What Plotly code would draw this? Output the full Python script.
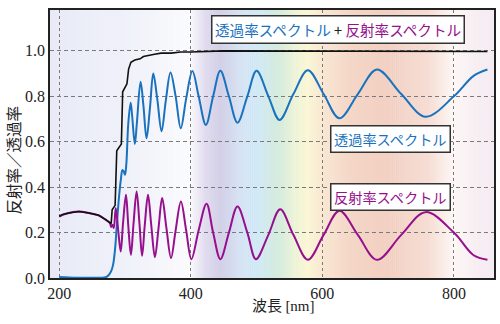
import plotly.graph_objects as go
import numpy as np

# ---------------- data ----------------
wl_T = [200, 215, 230, 245, 260, 268, 272, 275, 279, 282, 285, 288, 291, 294, 296, 298, 300,
        302, 305, 308.6, 311, 315, 318, 323.7, 328, 332.8, 338, 343, 349, 355.6, 362, 369.2,
        377, 384.8, 393, 402.5, 412, 423, 434, 445, 458, 471, 486, 500, 518, 535, 556, 578,
        602, 626, 654, 683, 720, 757, 800, 830, 851]
T = [0.004, 0.002, 0.001, 0.001, 0.001, 0.002, 0.005, 0.012, 0.03, 0.06, 0.13, 0.25, 0.36,
     0.44, 0.475, 0.47, 0.455, 0.5, 0.68, 0.772, 0.71, 0.59, 0.68, 0.864, 0.76, 0.615, 0.75,
     0.90, 0.79, 0.646, 0.78, 0.905, 0.80, 0.659, 0.79, 0.911, 0.80, 0.674, 0.80, 0.912, 0.80,
     0.684, 0.80, 0.912, 0.80, 0.696, 0.81, 0.915, 0.81, 0.703, 0.81, 0.918, 0.81, 0.71, 0.80,
     0.89, 0.918]

wl_R = [200, 210, 230, 245, 260, 270, 277, 279, 281, 283, 286, 290, 293.5, 297, 301.5, 305,
        309, 313, 317.7, 322, 326, 330, 335, 340, 345.5, 351, 356.5, 363, 370, 377, 385, 393,
        401, 412, 424, 434, 445, 458, 471, 486, 499, 518, 536, 556, 578, 602, 626, 654, 683,
        720, 757, 800, 830, 851]
R = [0.27, 0.283, 0.293, 0.286, 0.276, 0.258, 0.242, 0.225, 0.235, 0.22, 0.308, 0.2, 0.117,
     0.24, 0.366, 0.23, 0.102, 0.24, 0.381, 0.24, 0.098, 0.23, 0.366, 0.23, 0.092, 0.22, 0.352,
     0.22, 0.088, 0.21, 0.337, 0.21, 0.083, 0.21, 0.327, 0.20, 0.083, 0.20, 0.315, 0.20, 0.083,
     0.19, 0.303, 0.19, 0.08, 0.19, 0.296, 0.19, 0.08, 0.19, 0.29, 0.20, 0.10, 0.08]

wl_S = [200, 205, 215, 230, 245, 260, 270, 277, 279, 280.5, 285, 287.5, 291, 294.5, 296.5,
        300, 303, 305.5, 309, 315, 323, 328, 335, 345, 355, 370, 385, 400, 450, 500, 550,
        600, 650, 700, 750, 800, 851]
S = [0.272, 0.28, 0.286, 0.293, 0.286, 0.276, 0.258, 0.242, 0.24, 0.30, 0.32, 0.56, 0.575,
     0.59, 0.82, 0.84, 0.855, 0.92, 0.95, 0.96, 0.965, 0.975, 0.98, 0.985, 0.99, 0.99, 0.995,
     0.995, 1.0, 1.0, 0.998, 0.998, 0.999, 0.998, 0.999, 0.998, 0.997]

x_ticks = [200, 400, 600, 800]
y_ticks = [0.0, 0.2, 0.4, 0.6, 0.8, 1.0]

# ---------------- style ----------------
BLUE = "#1a72be"
MAGENTA = "#960f8c"
SERIF = "Liberation Serif, Times New Roman, serif"
JP = "Noto Sans CJK JP"

bg_nm = [186, 290, 370, 398, 420, 445, 475, 500, 535, 560, 578, 605, 640, 700, 760, 800, 830, 861]
bg_col = ["#e8ebf7", "#eef0f9", "#f7f8fc", "#fbfbfd", "#e2def0", "#d3d0e7", "#d5e2f3",
          "#cfe8f6", "#d6ecdc", "#eef4d9", "#fbf6d4", "#f8e4d1", "#f4d7c8", "#f2cfc1",
          "#f6ddd4", "#fdf7f5", "#f7eef2", "#f4ecf2"]


def h2rgb(h):
    h = h.lstrip("#")
    return np.array([int(h[i:i + 2], 16) for i in (0, 2, 4)], dtype=float)


cols = np.array([h2rgb(c) for c in bg_col])
shapes = []
step = 3.0
x0 = 186.0
while x0 < 861:
    xc = x0 + step / 2
    rgb = [np.interp(xc, bg_nm, cols[:, k]) for k in range(3)]
    shapes.append(dict(type="rect", xref="x", yref="paper", x0=x0, x1=x0 + step + 0.6,
                       y0=0, y1=1, fillcolor="rgb(%d,%d,%d)" % tuple(int(round(v)) for v in rgb),
                       line=dict(width=0), layer="below"))
    x0 += step

fig = go.Figure()
fig.add_trace(go.Scatter(x=wl_T, y=T, mode="lines", line=dict(color=BLUE, width=2, shape="spline",
                                                                smoothing=1.0), showlegend=False))
fig.add_trace(go.Scatter(x=wl_R, y=R, mode="lines", line=dict(color=MAGENTA, width=2, shape="spline",
                                                                smoothing=1.0), showlegend=False))
fig.add_trace(go.Scatter(x=wl_S, y=S, mode="lines", line=dict(color="#111111", width=1.6),
                         showlegend=False))

box = dict(bgcolor="white", bordercolor="#333", borderwidth=1.5, borderpad=2.5,
           xanchor="center", yanchor="middle", showarrow=False, xref="paper", yref="paper")
annotations = [
    dict(x=0.648, y=0.927,
         text="<span style='color:%s'>透過率スペクトル</span> + <span style='color:%s'>反射率スペクトル</span>"
              % (BLUE, MAGENTA),
         font=dict(family=JP, size=14.6, color="#222"), **box),
    dict(x=0.767, y=0.517, text="透過率スペクトル",
         font=dict(family=JP, size=14.2, color=BLUE), **box),
    dict(x=0.767, y=0.303, text="反射率スペクトル",
         font=dict(family=JP, size=14.2, color=MAGENTA), **box),
    dict(xref="paper", yref="paper", x=0.527, y=-0.0995, showarrow=False,
         xanchor="center", yanchor="middle",
         text="波長 <span style='font-family:Liberation Serif'>[nm]</span>",
         font=dict(family=JP, size=15, color="#222")),
    dict(xref="paper", yref="paper", x=-0.084, y=0.441, showarrow=False, textangle=-90,
         xanchor="center", yanchor="middle",
         text="反射率／透過率", font=dict(family=JP, size=15.5, color="#222")),
]

fig.update_layout(
    width=500, height=324, margin=dict(l=50, r=4, t=10, b=46),
    paper_bgcolor="white", plot_bgcolor="white",
    shapes=shapes, annotations=annotations,
    xaxis=dict(range=[186, 861], tickvals=x_ticks, showgrid=True, gridcolor="#7a7a7a",
               griddash="3px,3px", gridwidth=1, zeroline=False, showline=True, mirror=True,
               linecolor="#222", linewidth=1.5, ticks="",
               tickfont=dict(family=SERIF, size=16, color="#222")),
    yaxis=dict(range=[0, 1.18], tickvals=y_ticks, tickformat=".1f", showgrid=True,
               gridcolor="#7a7a7a", griddash="4px,3px", gridwidth=1, zeroline=False,
               showline=True, mirror=True, linecolor="#222", linewidth=1.5, ticks="",
               tickfont=dict(family=SERIF, size=16, color="#222")),
)

fig.write_html("out.html")
